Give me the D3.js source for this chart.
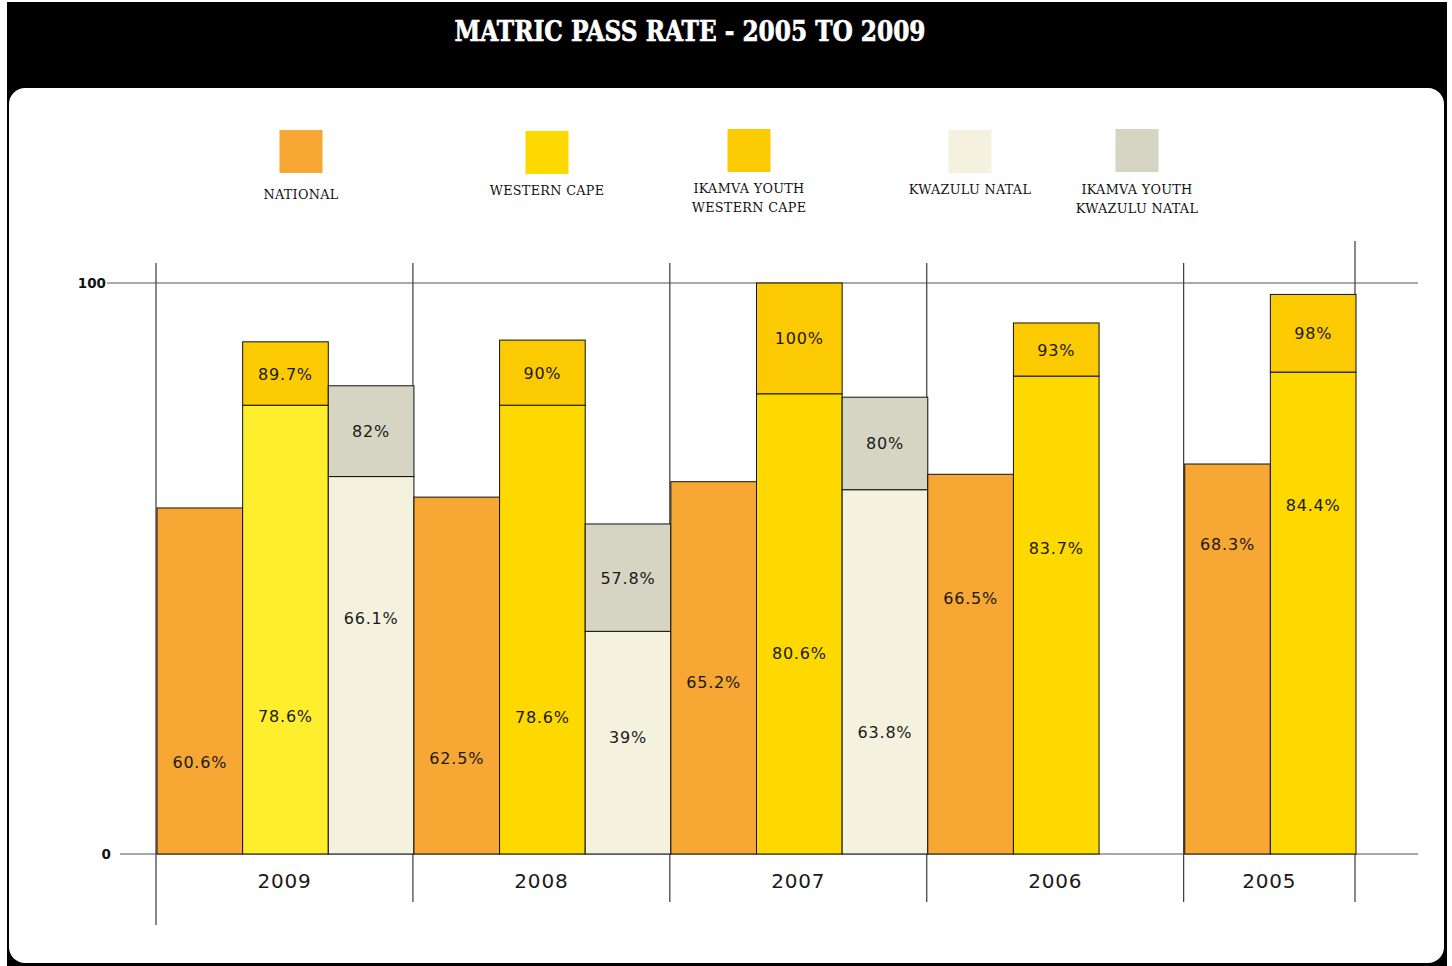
<!DOCTYPE html>
<html>
<head>
<meta charset="utf-8">
<script src="https://cdn.jsdelivr.net/npm/d3@7/dist/d3.min.js"></script>
<style>
  html, body { margin: 0; padding: 0; background: #fff; }
  svg { display: block; }
  .val { font-family: "DejaVu Sans", sans-serif; font-size: 16px; fill: #1a1a1a; letter-spacing: 0.8px; }
  .yr { font-family: "DejaVu Sans", sans-serif; font-size: 20px; fill: #1a1a1a; letter-spacing: 0.8px; }
  .leg { font-family: "DejaVu Serif", serif; font-size: 12.8px; fill: #111; letter-spacing: 0.3px; }
  .tick { font-family: "DejaVu Sans", sans-serif; font-size: 13.5px; font-weight: bold; fill: #111; }
</style>
</head>
<body>
<div class="chart-container"></div>
<script>
// data
var years = ["2009", "2008", "2007", "2006", "2005"]
var national = [60.6, 62.5, 65.2, 66.5, 68.3]
var westernCape = [78.6, 78.6, 80.6, 83.7, 84.4]
var ikamvaWC = [89.7, 90, 100, 93, 98]
var kwazulu = [66.1, 39, 63.8, null, null]
var ikamvaKZN = [82, 57.8, 80, null, null]
var seriesNames = ["NATIONAL", "WESTERN CAPE", "IKAMVA YOUTH\nWESTERN CAPE", "KWAZULU NATAL", "IKAMVA YOUTH\nKWAZULU NATAL"]
var yTicks = [0, 100]

// layout only
var slotCount = [3, 3, 3, 3, 2]
var natLabelAt = [16.1, 16.8, 30.1, 44.8, 54.3]
var wcLabelAt = [24.2, 24.0, 35.2, 53.6, 61.1]
var kznLabelAt = [41.3, 20.5, 21.4, null, null]
var legendX = [301, 547, 749, 970, 1137]
var legendTop = [130, 131, 129, 130, 129]
var legendTextY = [199, 195, 193, 194, 194]
var colors = ["#F7A733", "#FDD900", "#FCCA00", "#F4F2DE", "#D6D4C3"]

var W = 1452, H = 966

var svg = d3.select('.chart-container')
    .append('svg')
    .attr('width', W)
    .attr('height', H)

// frame
svg.append('rect').attr('x', 7).attr('y', 2).attr('width', 1440).attr('height', H - 2).attr('fill', '#000')
svg.append('rect').attr('x', 9).attr('y', 88).attr('width', 1435).attr('height', 875)
    .attr('rx', 16).attr('ry', 16).attr('fill', '#fff')

svg.append('text')
    .attr('x', 690).attr('y', 41)
    .attr('text-anchor', 'middle')
    .attr('textLength', 471)
    .attr('lengthAdjust', 'spacingAndGlyphs')
    .style('font-family', '"DejaVu Serif Condensed", "DejaVu Serif", serif')
    .style('font-weight', 'bold')
    .style('font-size', '27px')
    .style('fill', '#fff')
    .style('stroke', '#fff').style('stroke-width', 0.6)
    .text('MATRIC PASS RATE - 2005 TO 2009')

// legend
var leg = svg.append('g').selectAll('g')
    .data(seriesNames)
    .enter()
    .append('g')
    .attr('transform', function(d, i){ return 'translate(' + legendX[i] + ',0)' })
leg.append('rect')
    .attr('x', -21.5).attr('y', function(d, i){ return legendTop[i] })
    .attr('width', 43).attr('height', 43)
    .attr('fill', function(d, i){ return colors[i] })
leg.each(function(d, i){
    var lines = d.split('\n')
    d3.select(this).selectAll('text.leg')
        .data(lines)
        .enter()
        .append('text')
        .attr('class', 'leg')
        .attr('text-anchor', 'middle')
        .attr('y', function(l, j){ return legendTextY[i] + j * 19 })
        .text(function(l){ return l })
})

// scales
var slots = []
years.forEach(function(y, i){
    for (var k = 0; k < slotCount[i]; k++) slots.push(y + '-' + k)
})
var x = d3.scaleBand().domain(slots).range([156, 1355]).padding(0)
var y = d3.scaleLinear().domain([0, 100]).range([854, 283])
var bw = x.bandwidth()

// vertical group lines
var bounds = years.map(function(yr){ return x(yr + '-0') })
bounds.push(x.range()[1])
svg.append('g').selectAll('line')
    .data(bounds)
    .enter()
    .append('line')
    .attr('x1', function(d){ return d }).attr('x2', function(d){ return d })
    .attr('y1', function(d, i){ return i === bounds.length - 1 ? 241 : 263 })
    .attr('y2', function(d, i){ return i === 0 ? 925 : 902 })
    .attr('stroke', '#111').attr('stroke-width', 1)

// horizontal lines + tick labels
svg.append('g').selectAll('line')
    .data(yTicks)
    .enter()
    .append('line')
    .attr('x1', function(d){ return d === 0 ? 120 : 107 })
    .attr('x2', 1418)
    .attr('y1', function(d){ return y(d) }).attr('y2', function(d){ return y(d) })
    .attr('stroke', '#555').attr('stroke-width', 1.2)
svg.append('g').selectAll('text')
    .data(yTicks)
    .enter()
    .append('text')
    .attr('class', 'tick')
    .attr('text-anchor', 'end')
    .attr('x', function(d){ return d === 0 ? 111 : 106 })
    .attr('y', function(d){ return y(d) + 5 })
    .text(function(d){ return d })

// bar segments
var segs = []
years.forEach(function(yr, i){
    segs.push({slot: yr + '-0', lo: 0, hi: national[i], c: colors[0], label: national[i], at: natLabelAt[i]})
    segs.push({slot: yr + '-1', lo: 0, hi: westernCape[i], c: i === 0 ? '#FFEE2E' : colors[1], label: westernCape[i], at: wcLabelAt[i]})
    segs.push({slot: yr + '-1', lo: westernCape[i], hi: ikamvaWC[i], c: colors[2], label: ikamvaWC[i], at: (westernCape[i] + ikamvaWC[i]) / 2})
    if (kwazulu[i] != null) {
        segs.push({slot: yr + '-2', lo: 0, hi: kwazulu[i], c: colors[3], label: kwazulu[i], at: kznLabelAt[i]})
        segs.push({slot: yr + '-2', lo: kwazulu[i], hi: ikamvaKZN[i], c: colors[4], label: ikamvaKZN[i], at: (kwazulu[i] + ikamvaKZN[i]) / 2})
    }
})

var bars = svg.append('g').attr('class', 'bars')
bars.selectAll('rect')
    .data(segs)
    .enter()
    .append('rect')
    .attr('x', function(d){ return x(d.slot) + 1 })
    .attr('width', bw)
    .attr('y', function(d){ return y(d.hi) })
    .attr('height', function(d){ return y(d.lo) - y(d.hi) })
    .attr('fill', function(d){ return d.c })
    .attr('stroke', '#111').attr('stroke-width', 1)

bars.selectAll('text')
    .data(segs)
    .enter()
    .append('text')
    .attr('class', 'val')
    .attr('text-anchor', 'middle')
    .attr('x', function(d){ return x(d.slot) + bw / 2 + 1 })
    .attr('y', function(d){ return y(d.at) + 6 })
    .text(function(d){ return d.label + '%' })

// year labels
svg.append('g').selectAll('text')
    .data(years)
    .enter()
    .append('text')
    .attr('class', 'yr')
    .attr('text-anchor', 'middle')
    .attr('x', function(d, i){ return (bounds[i] + bounds[i + 1]) / 2 })
    .attr('y', 888)
    .text(function(d){ return d })
</script>
</body>
</html>
